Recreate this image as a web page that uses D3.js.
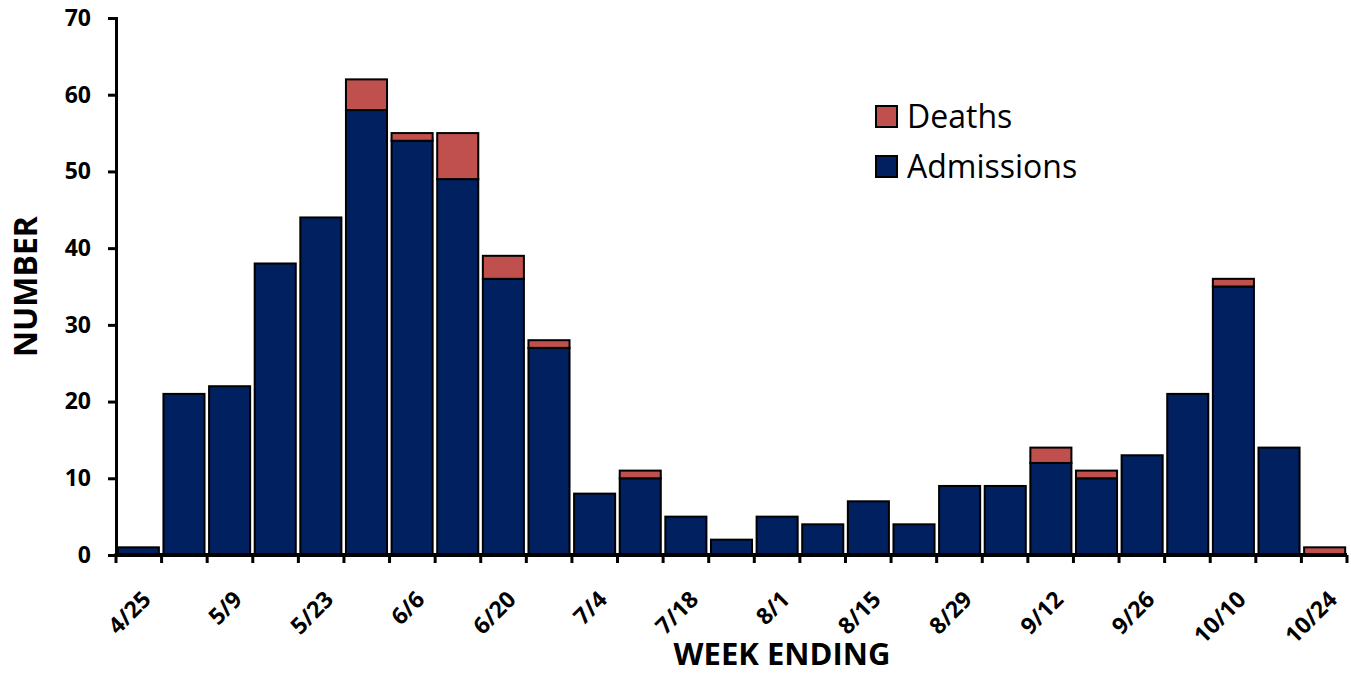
<!DOCTYPE html>
<html>
<head>
<meta charset="utf-8">
<script src="https://cdn.jsdelivr.net/npm/d3@7"></script>
<style>
  body { margin: 0; background: #fff; }
  svg { font-family: "Open Sans", "Noto Sans", sans-serif; }
</style>
</head>
<body>
<div id="chart"></div>
<script>
const weeks = ['4/25', '5/2', '5/9', '5/16', '5/23', '5/30', '6/6', '6/13', '6/20', '6/27',
  '7/4', '7/11', '7/18', '7/25', '8/1', '8/8', '8/15', '8/22', '8/29', '9/5',
  '9/12', '9/19', '9/26', '10/3', '10/10', '10/17', '10/24'];
const admissions = [1, 21, 22, 38, 44, 58, 54, 49, 36, 27, 8, 10, 5, 2, 5, 4, 7, 4, 9, 9, 12, 10, 13, 21, 35, 14, 0];
const deaths = [0, 0, 0, 0, 0, 4, 1, 6, 3, 1, 0, 1, 0, 0, 0, 0, 0, 0, 0, 0, 2, 1, 0, 0, 1, 0, 1];
const yTicks = [0, 10, 20, 30, 40, 50, 60, 70];

const width = 1351;
const height = 675;
const margin = { top: 18, right: 4, bottom: 120, left: 116 };

const rows = weeks.map((w, i) => ({ week: w, Admissions: admissions[i], Deaths: deaths[i] }));
const stack = d3.stack().keys(['Admissions', 'Deaths'])(rows);
const colors = { Admissions: '#002060', Deaths: '#c0504d' };

const svg = d3.select('#chart').append('svg')
  .attr('width', width)
  .attr('height', height);

const x = d3.scaleBand()
  .domain(weeks)
  .range([margin.left, width - margin.right])
  .paddingInner(0.1)
  .paddingOuter(0.04);

const y = d3.scaleLinear()
  .domain([0, 70])
  .range([height - margin.bottom, margin.top]);

// bars
svg.append('g')
  .selectAll('g')
  .data(stack)
  .join('g')
  .attr('fill', (d) => colors[d.key])
  .selectAll('rect')
  .data((d) => d.filter((p) => p[1] > p[0]))
  .join('rect')
  .attr('x', (d) => x(d.data.week))
  .attr('y', (d) => y(d[1]))
  .attr('width', x.bandwidth())
  .attr('height', (d) => y(d[0]) - y(d[1]))
  .attr('stroke', '#000')
  .attr('stroke-width', 2);

// y axis
const yAxis = svg.append('g')
  .attr('transform', `translate(${margin.left},0)`)
  .call(d3.axisLeft(y).tickValues(yTicks).tickSize(8).tickPadding(17));
yAxis.select('.domain').attr('stroke-width', 3);
yAxis.selectAll('.tick line').attr('stroke-width', 3);
yAxis.selectAll('.tick text')
  .style('font-size', '23px')
  .style('font-weight', 'bold')
  .attr('fill', '#000')
  .attr('font-family', '"Open Sans", sans-serif');

// x axis: ticks at category boundaries
const x0 = margin.left;
const x1 = width - margin.right;
const bounds = d3.range(weeks.length + 1).map((i) => x0 + (x1 - x0) * i / weeks.length);
const xg = svg.append('g');
xg.append('line')
  .attr('x1', x0 - 1.5).attr('x2', x1)
  .attr('y1', y(0)).attr('y2', y(0))
  .attr('stroke', '#000').attr('stroke-width', 4);
xg.selectAll('line.tk')
  .data(bounds)
  .join('line')
  .attr('class', 'tk')
  .attr('x1', (d) => d).attr('x2', (d) => d)
  .attr('y1', y(0)).attr('y2', y(0) + 8)
  .attr('stroke', '#000').attr('stroke-width', 3);

xg.selectAll('text')
  .data(weeks.filter((w, i) => i % 2 === 0))
  .join('text')
  .attr('transform', (d) => `translate(${x(d) + x.bandwidth() / 2 + 14},${y(0) + 46}) rotate(-45)`)
  .attr('text-anchor', 'end')
  .style('font-size', '23px')
  .style('font-weight', 'bold')
  .attr('fill', '#000')
  .text((d) => d);

// axis titles
svg.append('text')
  .attr('transform', `translate(37,${(y(0) + y(70)) / 2}) rotate(-90)`)
  .attr('text-anchor', 'middle')
  .style('font-size', '32px')
  .style('font-weight', 'bold')
  .text('NUMBER');

svg.append('text')
  .attr('x', 782)
  .attr('y', 665)
  .attr('text-anchor', 'middle')
  .style('font-size', '31px')
  .style('font-weight', 'bold')
  .text('WEEK ENDING');

// legend
const legend = svg.append('g').attr('transform', 'translate(876,106)');
['Deaths', 'Admissions'].forEach((k, i) => {
  const g = legend.append('g').attr('transform', `translate(0,${i * 50})`);
  g.append('rect')
    .attr('width', 21).attr('height', 21)
    .attr('fill', colors[k])
    .attr('stroke', '#000').attr('stroke-width', 2);
  g.append('text')
    .attr('x', 31).attr('y', 22)
    .style('font-size', '32px')
    .text(k);
});
</script>
</body>
</html>
